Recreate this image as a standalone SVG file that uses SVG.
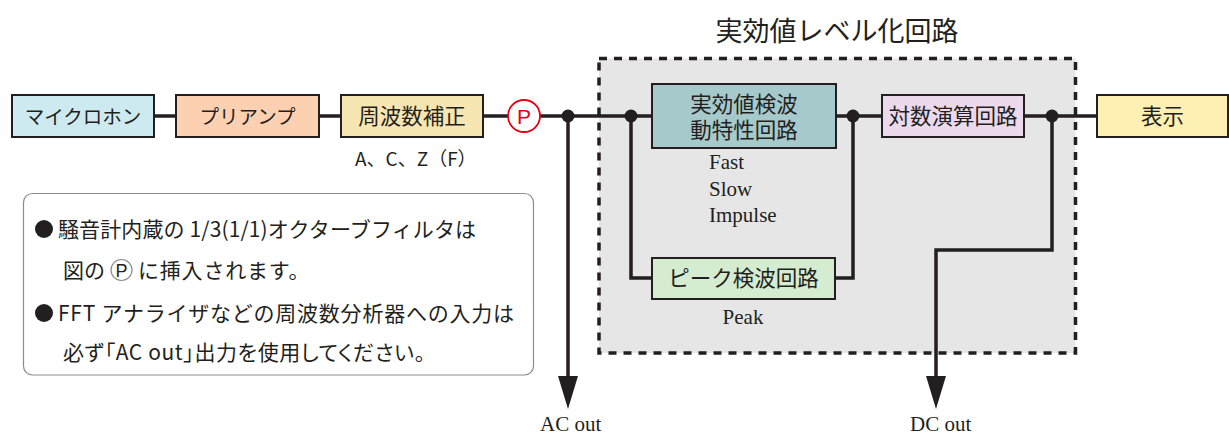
<svg xmlns="http://www.w3.org/2000/svg" width="1229" height="437" viewBox="0 0 1229 437">
<defs>
<style>
.box{stroke:#231f20;stroke-width:2}
.jp{font-family:"Noto Sans CJK JP","Noto Sans",sans-serif;fill:#231f20}
.bt{font-size:21.5px;text-anchor:middle}
.kt{font-size:19.5px;text-anchor:middle}
.ser{font-family:"Liberation Serif","Times New Roman",serif;fill:#231f20;font-size:21px}
.wire{fill:none;stroke:#231f20;stroke-width:3.5}
.dot{fill:#231f20}
.note{font-size:21px}
.palt{font-feature-settings:"palt" 1}
</style>
<marker id="arrow" markerUnits="userSpaceOnUse" markerWidth="33" markerHeight="20" viewBox="0 0 33 20" refX="0" refY="10" orient="auto">
<path d="M0,0 L33,10 L0,20 Z" fill="#231f20"/>
</marker>
</defs>
<rect width="1229" height="437" fill="#ffffff"/>

<g id="rms-level-group">
<rect x="599" y="58.5" width="476.5" height="294.5" fill="#e6e6e6" stroke="#231f20" stroke-width="3.5" stroke-dasharray="8 7"/>
<text class="jp" x="837" y="41" font-size="27" text-anchor="middle">実効値レベル化回路</text>
</g>

<g id="connectors">
<line class="wire" x1="154" y1="116" x2="1097" y2="116"/>
<path class="wire" d="M568,116 V376" marker-end="url(#arrow)"/>
<path class="wire" d="M631,116 V278 H652"/>
<path class="wire" d="M835,278 H853 V116"/>
<path class="wire" d="M1052,116 V250 H936 V376" marker-end="url(#arrow)"/>
<circle class="dot" cx="568" cy="116" r="6.5"/>
<circle class="dot" cx="631" cy="116" r="6.5"/>
<circle class="dot" cx="853" cy="116" r="6.5"/>
<circle class="dot" cx="1052" cy="116" r="6.5"/>
</g>

<g id="mic">
<rect class="box" x="12" y="95" width="142" height="42" fill="#cdeaf0"/>
<text class="jp kt" x="83" y="123.5">マイクロホン</text>
</g>
<g id="preamp">
<rect class="box" x="176" y="95" width="143" height="42" fill="#fdd0b2"/>
<text class="jp kt" x="247.5" y="123.5">プリアンプ</text>
</g>
<g id="freq-weighting">
<rect class="box" x="341" y="95" width="142" height="42" fill="#f7e6b2"/>
<text class="jp bt" x="412" y="124">周波数補正</text>
<text class="jp" x="355" y="166" font-size="19">A、C、Z（F）</text>
</g>
<g id="p-point">
<circle cx="524" cy="116" r="16" fill="#ffffff" stroke="#e60012" stroke-width="1.8"/>
<text x="524" y="123.5" font-family="Liberation Sans, Arial, sans-serif" font-size="21" fill="#e60012" text-anchor="middle">P</text>
</g>
<g id="rms-detector">
<rect class="box" x="652" y="84" width="184" height="64" fill="#a6c9cc"/>
<text class="jp bt"><tspan x="744" y="111.5">実効値検波</tspan><tspan x="744" y="137.5">動特性回路</tspan></text>
<text class="ser"><tspan x="709" y="169">Fast</tspan><tspan x="709" y="196">Slow</tspan><tspan x="709" y="222">Impulse</tspan></text>
</g>
<g id="peak-detector">
<rect class="box" x="652" y="258" width="183" height="41" fill="#d5ecd0"/>
<text class="jp bt" x="743.5" y="286">ピーク検波回路</text>
<text class="ser" x="743" y="324" text-anchor="middle">Peak</text>
</g>
<g id="log-circuit">
<rect class="box" x="882" y="95" width="142" height="42" fill="#ecdaec"/>
<text class="jp bt" x="953" y="124">対数演算回路</text>
</g>
<g id="display">
<rect class="box" x="1097" y="95" width="131" height="42" fill="#fdf0b2"/>
<text class="jp bt" x="1162.5" y="124">表示</text>
</g>
<g id="ac-out">
<text class="ser" x="540" y="431" font-size="20">AC out</text>
</g>
<g id="dc-out">
<text class="ser" x="910" y="431" font-size="20">DC out</text>
</g>

<g id="note">
<rect x="23.5" y="193.5" width="510" height="181.5" rx="9" fill="#ffffff" stroke="#8c8c8c" stroke-width="1.2"/>
<circle class="dot" cx="44" cy="229" r="9"/>
<text class="jp note" x="58" y="237" textLength="418" lengthAdjust="spacing">騒音計内蔵の 1/3(1/1)オクターブフィルタは</text>
<text class="jp note" x="63" y="278" font-size="21.5">図の</text>
<circle cx="121.5" cy="270" r="10.5" fill="none" stroke="#8c8c8c" stroke-width="1.2"/>
<text x="121.5" y="276.5" font-family="Liberation Sans, Arial, sans-serif" font-size="18" fill="#231f20" text-anchor="middle">P</text>
<text class="jp note" x="138" y="278" font-size="21.5" letter-spacing="0.8">に挿入されます。</text>
<circle class="dot" cx="44" cy="313" r="9"/>
<text class="jp note" x="58" y="321" textLength="456" lengthAdjust="spacing">FFT アナライザなどの周波数分析器への入力は</text>
<text class="jp note palt" x="63" y="360" textLength="362" lengthAdjust="spacing">必ず「AC out」出力を使用してください。</text>
</g>
</svg>
